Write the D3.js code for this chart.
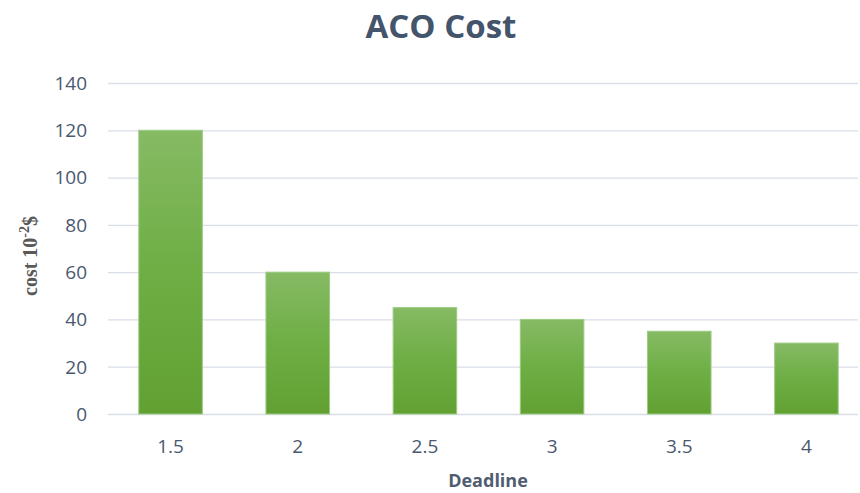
<!DOCTYPE html>
<html><head><meta charset="utf-8">
<script src="https://cdn.jsdelivr.net/npm/d3@7"></script>
<style>body{margin:0;background:#fff;} svg{display:block;}</style>
</head><body>
<script>
const categories = ["1.5","2","2.5","3","3.5","4"];
const values = [120,60,45,40,35,30];
const yTicks = [0,20,40,60,80,100,120,140];

const W=860,H=493;
const svg=d3.select("body").append("svg").attr("width",W).attr("height",H);
const defs=svg.append("defs");
const g=defs.append("linearGradient").attr("id","bg").attr("x1",0).attr("y1",0).attr("x2",0).attr("y2",1);
g.append("stop").attr("offset","0%").attr("stop-color","#86ba64");
g.append("stop").attr("offset","50%").attr("stop-color","#6eae44");
g.append("stop").attr("offset","100%").attr("stop-color","#62a032");

const x=d3.scaleBand().domain(categories).range([107,870]).paddingInner(0.5).paddingOuter(0.25);
const y=d3.scaleLinear().domain([0,140]).range([414,83]);

svg.append("g").selectAll("line").data(yTicks).join("line")
  .attr("x1",108).attr("x2",858).attr("y1",d=>y(d)+0.5).attr("y2",d=>y(d)+0.5)
  .attr("stroke","#d9dee8").attr("stroke-width",1.3);

svg.append("g").selectAll("rect").data(values).join("rect")
  .attr("x",(d,i)=>x(categories[i])).attr("width",x.bandwidth())
  .attr("y",d=>y(d)).attr("height",d=>y(0)-y(d))
  .attr("fill","url(#bg)").attr("stroke","#9ccc84").attr("stroke-width",1);

const font="'Open Sans', Lato, sans-serif";
svg.append("g").selectAll("text").data(yTicks).join("text")
  .attr("x",87).attr("y",d=>y(d)).attr("dy","0.36em").attr("text-anchor","end")
  .attr("font-family",font).attr("font-size",19).attr("fill","#4a5870").text(d=>d);

svg.append("g").selectAll("text").data(categories).join("text")
  .attr("x",d=>x(d)+x.bandwidth()/2).attr("y",453).attr("text-anchor","middle")
  .attr("font-family",font).attr("font-size",19).attr("fill","#4a5870").text(d=>d);

svg.append("text").attr("x",441).attr("y",38).attr("text-anchor","middle")
  .attr("font-family",font).attr("font-weight","bold").attr("font-size",33).attr("fill","#44546a").text("ACO Cost");

svg.append("text").attr("x",488).attr("y",487).attr("text-anchor","middle")
  .attr("font-family",font).attr("font-weight","bold").attr("font-size",18).attr("fill","#505c70").text("Deadline");

const yl=svg.append("text").attr("transform","translate(37,256) rotate(-90)").attr("text-anchor","middle")
  .attr("font-family","'Liberation Serif', 'Times New Roman', serif").attr("font-weight","bold").attr("font-size",20).attr("fill","#595959");
yl.append("tspan").text("cost 10");
yl.append("tspan").attr("dy",-8).attr("font-size",14).text("-2");
yl.append("tspan").attr("dy",8).text("$");
</script>
</body></html>
